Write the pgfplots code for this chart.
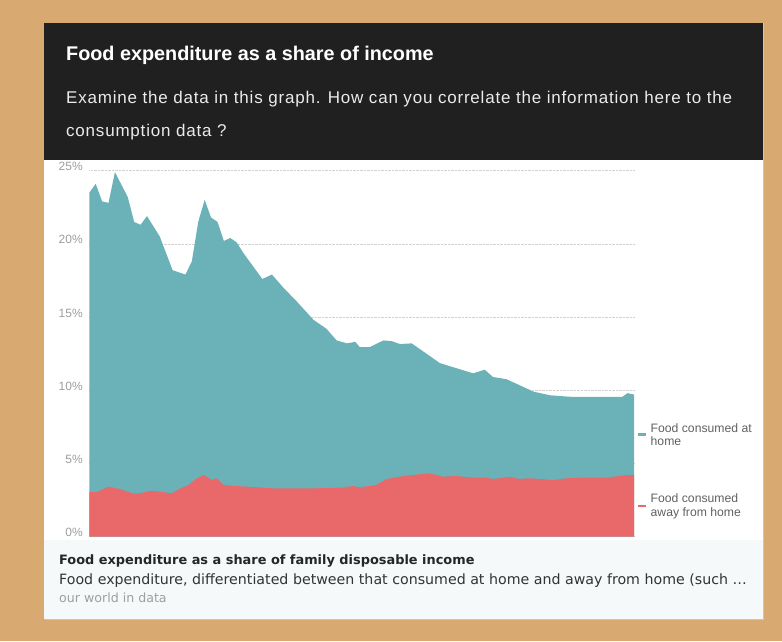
\documentclass[border=0pt]{standalone}
\usepackage{pgfplots}
\pgfplotsset{compat=1.18}
\usepackage{pgfplotstable}
\usepackage{fontspec}
\setmainfont{Liberation Sans}
\newfontfamily\footfont{DejaVu Sans}

\definecolor{wood}{HTML}{D9A972}
\definecolor{headbg}{HTML}{202020}
\definecolor{footbg}{HTML}{F5F9FA}
\definecolor{homecol}{HTML}{6AB2B8}
\definecolor{awaycol}{HTML}{E9686A}

% total share (at home + away from home), % of disposable income
\pgfplotstableread{
year total
1929 23.5
1930 24.1
1931 22.9
1932 22.8
1933 24.9
1935 23.2
1936 21.5
1937 21.3
1938 21.9
1940 20.5
1942 18.2
1944 17.9
1945 18.8
1946 21.5
1947 23.0
1948 21.8
1949 21.5
1950 20.2
1951 20.4
1952 20.1
1953 19.4
1954 18.8
1956 17.6
1957.5 17.9
1959.3 17.0
1961.4 16.05
1964 14.8
1966 14.2
1967.6 13.4
1969.2 13.2
1970.5 13.3
1971.2 12.95
1972.8 12.95
1974.9 13.4
1976.2 13.35
1977.5 13.15
1979.3 13.2
1981.6 12.5
1983.7 11.85
1986.3 11.5
1988.9 11.15
1990.7 11.4
1992 10.9
1994.1 10.75
1996.1 10.35
1998.3 9.9
2000.9 9.65
2004 9.55
2008.6 9.55
2012.2 9.55
2013 9.8
2014 9.7
}\totaltable

% food consumed away from home
\pgfplotstableread{
year away
1929 3.06
1930.1 3.02
1932 3.4
1933.9 3.23
1935.7 2.95
1936.9 2.95
1938.7 3.13
1940 3.06
1941.9 2.95
1943.2 3.29
1944.5 3.52
1945.8 3.98
1946.9 4.2
1948.1 3.86
1948.9 3.98
1949.9 3.52
1952 3.45
1957.7 3.29
1963.9 3.29
1968.5 3.34
1970.1 3.45
1971.2 3.36
1973.8 3.52
1975.4 3.93
1978.5 4.16
1982.1 4.32
1984.2 4.09
1986.3 4.13
1988.9 4.02
1991 4.02
1992 3.93
1994.6 4.07
1996.1 3.93
1997.7 3.98
2001.4 3.86
2003.5 3.98
2006.1 4.02
2009.7 4.02
2012.8 4.2
2014 4.2
}\awaytable

\begin{document}
\begin{tikzpicture}[x=1pt,y=1pt]
% board and card
\fill[wood] (0,0) rectangle (782,641);
\path[use as bounding box] (0,0) rectangle (782,641);
\fill[black!22] (45,20.6) rectangle (764.2,617.5);
\fill[headbg] (44,481) rectangle (763,618.3);
\fill[white] (44,101) rectangle (763,481);
\fill[footbg] (44,22) rectangle (763,101);

% header text
\node[anchor=base west, inner sep=0, text=white, font=\fontsize{19.8}{22}\selectfont\bfseries]
  at (66,580.3) {Food expenditure as a share of income};
\node[anchor=base west, inner sep=0, text=white!92!black, font=\fontsize{17}{19}\selectfont\addfontfeature{LetterSpace=4.7}]
  at (66,537.7) {Examine the data in this graph. How can you correlate the information here to the};
\node[anchor=base west, inner sep=0, text=white!92!black, font=\fontsize{17}{19}\selectfont\addfontfeature{LetterSpace=4.7}]
  at (66,504.3) {consumption data ?};

% footer text
\node[anchor=base west, inner sep=0, text=black!85, font=\footfont\fontsize{12.9}{16}\selectfont\bfseries]
  at (59,76.7) {Food expenditure as a share of family disposable income};
\node[anchor=base west, inner sep=0, text=black!80, font=\footfont\fontsize{14.2}{16}\selectfont]
  at (59,57) {Food expenditure, differentiated between that consumed at home and away from home (such \dots};
\node[anchor=base west, inner sep=0, text=black!38, font=\footfont\fontsize{12.6}{14}\selectfont]
  at (59,38.7) {our world in data};

\begin{axis}[
    at={(89.3pt,104.5pt)}, anchor=south west,
    scale only axis,
    width=544.7pt, height=365.8pt,
    xmin=1929, xmax=2014,
    ymin=0, ymax=25,
    axis line style={draw=none},
    xtick=\empty,
    ytick={0,5,...,25},
    major tick length=0pt,
    ymajorgrids,
    grid style={densely dotted, black!18, line width=0.6pt},
    yticklabel={\pgfmathprintnumber{\tick}\%},
    /pgf/number format/assume math mode=true,
    yticklabel style={text=black!38, font=\fontsize{12}{14}\selectfont, anchor=east, xshift=-3pt, yshift=4pt},
    clip=false,
]
\addplot[fill=homecol, draw=none] table[x=year, y=total] {\totaltable} \closedcycle;
\addplot[fill=awaycol, draw=none] table[x=year, y=away] {\awaytable} \closedcycle;
\end{axis}

% legend
\draw[homecol, line width=2.4pt] (638,206.7) -- (646,206.7);
\draw[awaycol, line width=2.4pt] (638,135.3) -- (646,135.3);
\begin{scope}[every node/.style={anchor=base west, inner sep=0, text=black!62, font=\fontsize{12.2}{14}\selectfont}]
\node at (650.5,208.7) {Food consumed at};
\node at (650.5,196) {home};
\node at (650.5,138.7) {Food consumed};
\node at (650.5,124.7) {away from home};
\end{scope}
\end{tikzpicture}
\end{document}
